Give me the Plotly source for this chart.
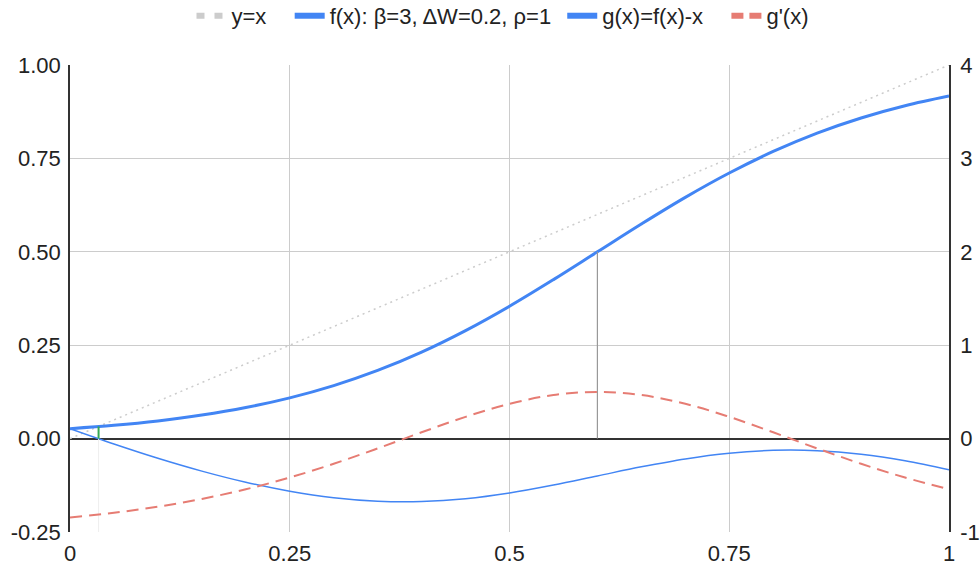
import plotly.graph_objects as go

# Sample points along x
x_vals = [0.0, 0.05, 0.1, 0.15, 0.2, 0.25, 0.3, 0.35, 0.4, 0.45, 0.5,
          0.55, 0.6, 0.65, 0.7, 0.75, 0.8, 0.85, 0.9, 0.95, 1.0]

# f(x): sigmoid response with beta=3, dW=0.2, rho=1
f_vals = [0.0266, 0.0356, 0.0474, 0.0630, 0.0832, 0.1091, 0.1419, 0.1824,
          0.2315, 0.2891, 0.3543, 0.4256, 0.5000, 0.5744, 0.6457, 0.7109,
          0.7685, 0.8176, 0.8582, 0.8909, 0.9168]

# g(x) = f(x) - x
g_vals = [0.0266, -0.0144, -0.0526, -0.0870, -0.1168, -0.1409, -0.1582,
          -0.1676, -0.1685, -0.1610, -0.1457, -0.1244, -0.1000, -0.0756,
          -0.0543, -0.0391, -0.0315, -0.0324, -0.0419, -0.0591, -0.0832]

# g'(x), read on the right-hand axis
dg_vals = [-0.8446, -0.7942, -0.7289, -0.6460, -0.5425, -0.4168, -0.2696,
           -0.1051, 0.0674, 0.2330, 0.3727, 0.4668, 0.5000, 0.4668, 0.3727,
           0.2330, 0.0674, -0.1051, -0.2696, -0.4168, -0.5425]

# Identity line
diag_x = [0.0, 1.0]
diag_y = [0.0, 1.0]

# Fixed point of f (where g crosses zero) and the inflection point
fixed_x = 0.0325
fixed_y = 0.0325
infl_x = 0.6
infl_y = 0.5

x_ticks = [0, 0.25, 0.5, 0.75, 1]
x_tick_text = ["0", "0.25", "0.5", "0.75", "1"]
left_ticks = [-0.25, 0, 0.25, 0.5, 0.75, 1.0]
left_tick_text = ["-0.25", "0.00", "0.25", "0.50", "0.75", "1.00"]
right_ticks = [-1, 0, 1, 2, 3, 4]
right_tick_text = ["-1", "0", "1", "2", "3", "4"]

series_names = ["y=x", "f(x): β=3, ΔW=0.2, ρ=1", "g(x)=f(x)-x", "g'(x)"]
# extra spacing after each legend label (non-breaking spaces)
legend_pad = [3, 1, 3, 0]

BLUE = "#4285F4"
SALMON = "#E67C73"
GREEN = "#34A853"
LIGHT = "#cccccc"

fig = go.Figure()

# Data traces (legend entries drawn separately with chunkier swatches)
fig.add_trace(go.Scatter(
    x=diag_x, y=diag_y, mode="lines", showlegend=False, hoverinfo="skip",
    line=dict(color=LIGHT, width=1.5, dash="2px,4px")))

fig.add_trace(go.Scatter(
    x=x_vals, y=f_vals, mode="lines", showlegend=False, name=series_names[1],
    line=dict(color=BLUE, width=3, shape="spline")))

fig.add_trace(go.Scatter(
    x=x_vals, y=g_vals, mode="lines", showlegend=False, name=series_names[2],
    line=dict(color=BLUE, width=1.5, shape="spline")))

# Marker lines: fixed point and inflection point
fig.add_trace(go.Scatter(
    x=[fixed_x, fixed_x], y=[left_ticks[0], 0], mode="lines",
    line=dict(color="#eeeeee", width=1), showlegend=False, hoverinfo="skip"))
fig.add_trace(go.Scatter(
    x=[fixed_x, fixed_x], y=[0, fixed_y], mode="lines",
    line=dict(color=GREEN, width=2), showlegend=False, hoverinfo="skip"))
fig.add_trace(go.Scatter(
    x=[infl_x, infl_x], y=[0, infl_y], mode="lines",
    line=dict(color="#999999", width=1.2), showlegend=False, hoverinfo="skip"))

fig.add_trace(go.Scatter(
    x=x_vals, y=dg_vals, mode="lines", yaxis="y2", showlegend=False,
    name=series_names[3],
    line=dict(color=SALMON, width=2, dash="12px,7px", shape="spline")))

# Legend swatches
swatches = [
    dict(color=LIGHT, dash="8px,10px"),
    dict(color=BLUE, dash="solid"),
    dict(color=BLUE, dash="solid"),
    dict(color=SALMON, dash="12px,6px"),
]
for name, pad, sw in zip(series_names, legend_pad, swatches):
    fig.add_trace(go.Scatter(
        x=[None], y=[None], mode="lines", name=name + "\u00a0" * pad,
        line=dict(color=sw["color"], width=6, dash=sw["dash"])))

FONT = "Liberation Sans, Arial, sans-serif"
axis_font = dict(family=FONT, size=22, color="#222222")

fig.update_layout(
    width=980, height=569,
    margin=dict(l=70, r=31, t=65, b=37),
    paper_bgcolor="white", plot_bgcolor="white",
    font=dict(family=FONT, size=22, color="#222222"),
    showlegend=True,
    legend=dict(orientation="h", x=0.4926, xanchor="center",
                yref="container", y=0.972, yanchor="middle",
                font=dict(size=22, color="#222222"), bgcolor="rgba(0,0,0,0)"),
    xaxis=dict(range=[0, 1], tickvals=x_ticks, ticktext=x_tick_text,
               showgrid=True, gridcolor=LIGHT, gridwidth=1,
               zeroline=False, showline=False, ticks="", tickfont=axis_font,
               ticklabelstandoff=6, automargin=False),
    yaxis=dict(range=[-0.25, 1.0], tickvals=left_ticks, ticktext=left_tick_text,
               showgrid=True, gridcolor=LIGHT, gridwidth=1,
               zeroline=True, zerolinecolor="#333333", zerolinewidth=1.5,
               showline=True, linecolor="#333333", linewidth=1.5,
               ticks="", tickfont=axis_font, ticklabelstandoff=3,
               automargin=False),
    yaxis2=dict(range=[-1, 4], tickvals=right_ticks, ticktext=right_tick_text,
                overlaying="y", side="right",
                showgrid=False, zeroline=False,
                showline=True, linecolor="#333333", linewidth=1.5,
                ticks="", tickfont=axis_font, ticklabelstandoff=5,
                automargin=False),
)

fig.write_html("out.html")
